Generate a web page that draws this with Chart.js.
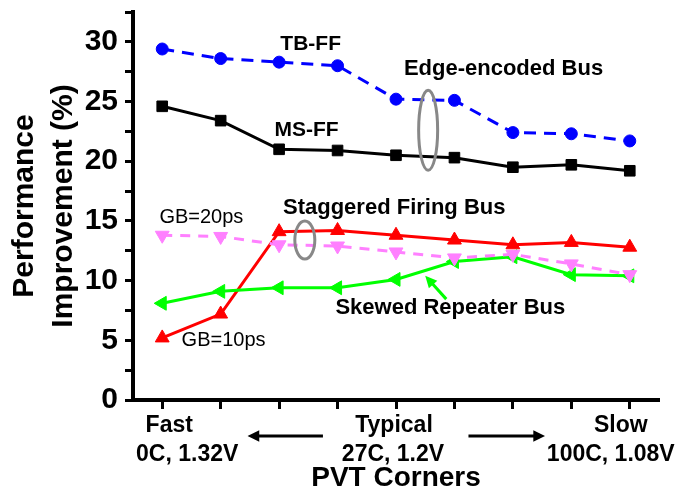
<!DOCTYPE html>
<html>
<head>
<meta charset="utf-8">
<script src="https://cdn.jsdelivr.net/npm/chart.js@4/dist/chart.umd.min.js"></script>
<style>
  html, body { margin: 0; padding: 0; background: #fff; }
  #wrap { width: 678px; height: 492px; }
</style>
</head>
<body>
<div id="wrap"><canvas id="perf"></canvas></div>
<script>
// PVT corners, only three are labelled on the axis
const corners = ['Fast', '', '', '', 'Typical', '', '', '', 'Slow'];
const cornerDetail = ['0C, 1.32V', '', '', '', '27C, 1.2V', '', '', '', '100C, 1.08V'];

// performance improvement (%) per corner
const tbFF = [29.4, 28.6, 28.3, 28.0, 25.2, 25.1, 22.4, 22.3, 21.7];
const msFF = [24.6, 23.4, 21.0, 20.9, 20.5, 20.3, 19.5, 19.7, 19.2];
const gb10 = [5.2, 7.2, 14.1, 14.2, 13.8, 13.4, 13.0, 13.2, 12.8];
const gb20 = [13.8, 13.7, 13.0, 12.9, 12.4, 11.9, 12.2, 11.4, 10.5];
const skewed = [8.1, 9.1, 9.4, 9.4, 10.1, 11.6, 12.0, 10.5, 10.4];

const Y_MIN = 0, Y_MAX = 32.5, Y_STEP = 2.5;

const FONT = '"Liberation Sans", Arial, sans-serif';
Chart.defaults.font.family = FONT;
Chart.defaults.color = '#000';

// free-floating labels, in data coordinates (x = corner index)
const NOTES = [
  { text: 'TB-FF', x: 2.54, y: 29.8, font: 'bold 21px' },
  { text: 'Edge-encoded Bus', x: 5.84, y: 27.7, font: 'bold 22px' },
  { text: 'MS-FF', x: 2.47, y: 22.6, font: 'bold 21px' },
  { text: 'Staggered Firing Bus', x: 3.97, y: 16.1, font: 'bold 22px' },
  { text: 'GB=20ps', x: 0.67, y: 15.25, font: '20px' },
  { text: 'GB=10ps', x: 1.05, y: 5.0, font: '20px' },
  { text: 'Skewed Repeater Bus', x: 4.93, y: 7.7, font: 'bold 22px' }
];

function arrow(ctx, x1, y1, x2, y2, color, head) {
  const a = Math.atan2(y2 - y1, x2 - x1);
  ctx.strokeStyle = color; ctx.fillStyle = color; ctx.lineWidth = 3;
  ctx.beginPath();
  ctx.moveTo(x1, y1);
  ctx.lineTo(x2 - Math.cos(a) * head * 0.8, y2 - Math.sin(a) * head * 0.8);
  ctx.stroke();
  ctx.beginPath();
  ctx.moveTo(x2, y2);
  ctx.lineTo(x2 - head * Math.cos(a - 0.45), y2 - head * Math.sin(a - 0.45));
  ctx.lineTo(x2 - head * Math.cos(a + 0.45), y2 - head * Math.sin(a + 0.45));
  ctx.closePath();
  ctx.fill();
}

const notesPlugin = {
  id: 'notes',
  afterDatasetsDraw(chart) {
    const { ctx, chartArea, scales: { x, y } } = chart;
    const px = (v) => x.getPixelForValue(v);
    const py = (v) => y.getPixelForValue(v);
    ctx.save();

    // grey ellipses grouping the two series of each bus
    ctx.strokeStyle = '#888';
    ctx.lineWidth = 3;
    ctx.beginPath();
    ctx.ellipse(px(4.55), py(22.6), 9.5, 40, 0, 0, Math.PI * 2);
    ctx.stroke();
    ctx.beginPath();
    ctx.ellipse(px(2.44), py(13.4), 10, 19, 0, 0, Math.PI * 2);
    ctx.stroke();

    arrow(ctx, px(4.86), py(8.45), px(4.5), py(10.4), '#00FF00', 13);

    ctx.fillStyle = '#000';
    ctx.textAlign = 'center';
    ctx.textBaseline = 'middle';
    NOTES.forEach((n) => {
      ctx.font = n.font + ' ' + FONT;
      ctx.fillText(n.text, px(n.x), py(n.y));
    });

    // corner labels under the axis
    const base = chartArea.bottom;
    const shift = { 0: [7, 25], 4: [-2, -3], 8: [-9, -19] };
    ctx.font = 'bold 23px ' + FONT;
    ctx.textBaseline = 'alphabetic';
    corners.forEach((c, i) => {
      if (!c) return;
      const [d1, d2] = shift[i] || [0, 0];
      ctx.fillText(c, px(i) + d1, base + 32);
      ctx.fillText(cornerDetail[i], px(i) + d2, base + 61);
    });

    arrow(ctx, px(2.75), base + 36, px(1.46), base + 36, '#000', 13);
    arrow(ctx, px(5.24), base + 36, px(6.55), base + 36, '#000', 13);
    ctx.restore();
  }
};

function series(label, data, color, style, rotation, radius, dash) {
  return {
    label, data,
    borderColor: color, backgroundColor: color,
    pointBackgroundColor: color, pointBorderColor: color,
    borderWidth: 3, borderDash: dash || [],
    pointStyle: style, rotation, pointRadius: radius, pointBorderWidth: 1,
    tension: 0
  };
}

new Chart(document.getElementById('perf'), {
  type: 'line',
  data: {
    labels: corners,
    datasets: [
      series('TB-FF', tbFF, '#0000FF', 'circle', 0, 6, [12, 8]),
      series('MS-FF', msFF, '#000000', 'rect', 0, 7.5),
      series('GB=20ps', gb20, '#FF80FF', 'triangle', 180, 8, [10, 8]),
      series('Skewed Repeater Bus', skewed, '#00FF00', 'triangle', 270, 8),
      series('GB=10ps', gb10, '#FF0000', 'triangle', 0, 8)
    ]
  },
  options: {
    responsive: true,
    maintainAspectRatio: false,
    animation: false,
    layout: { padding: { top: 12, right: 19, bottom: 0, left: 0 } },
    plugins: { legend: { display: false }, tooltip: { enabled: false } },
    scales: {
      x: {
        offset: true,
        border: { color: '#000', width: 4 },
        grid: { display: true, drawOnChartArea: false, offset: false, tickLength: 9, tickWidth: 3, tickColor: '#000' },
        ticks: { display: false },
        title: { display: true, text: 'PVT Corners', font: { size: 28, weight: 'bold', lineHeight: 1.0 }, padding: { top: 0, bottom: 0 } },
        afterFit: (s) => { s.height = 92; s.paddingLeft = 0; s.paddingRight = 0; }
      },
      y: {
        min: Y_MIN,
        max: Y_MAX,
        border: { color: '#000', width: 4 },
        grid: { drawOnChartArea: false, tickLength: 8, tickWidth: 3, tickColor: '#000' },
        ticks: {
          stepSize: Y_STEP,
          autoSkip: false,
          maxTicksLimit: 30,
          padding: 7,
          font: { size: 30, weight: 'bold' },
          callback: (v) => (v % 5 === 0 && v <= 30 ? v : '')
        },
        title: {
          display: true,
          text: ['Performance', 'Improvement (%)'],
          font: { size: 30, weight: 'bold', lineHeight: 1.3 },
          padding: { top: 5, bottom: 0 }
        },
        afterFit: (s) => { s.width = 133; s.paddingTop = 0; s.paddingBottom = 0; }
      }
    }
  },
  plugins: [notesPlugin]
});
</script>
</body>
</html>
